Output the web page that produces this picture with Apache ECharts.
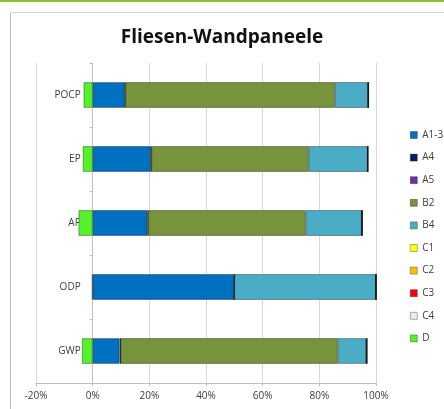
<!DOCTYPE html>
<html>
<head>
<meta charset="utf-8">
<script src="https://cdn.jsdelivr.net/npm/echarts@6/dist/echarts.min.js"></script>
<style>
  html, body { margin: 0; padding: 0; background: #fff; }
  #main { width: 444px; height: 409px; }
</style>
</head>
<body>
<div id="main"></div>
<script>
// Kategorien (unten nach oben)
var categories = ['GWP', 'ODP', 'AP', 'EP', 'POCP'];
var seriesNames = ['A1-3', 'A4', 'A5', 'B2', 'B4', 'C1', 'C2', 'C3', 'C4', 'D'];
var seriesColors = ['#0070c0', '#002060', '#7030a0', '#77933c', '#4bacc6', '#ffff00', '#ffc000', '#ff0000', '#eeece1', '#55f22a'];

// Anteile in %, Reihenfolge wie categories
var valA13 = [9.5, 50.0, 19.3, 20.5, 11.3];
var valA4  = [0.4, 0.0, 0.3, 0.2, 0.2];
var valA5  = [0, 0, 0, 0, 0];
var valB2  = [76.6, 0.0, 55.6, 55.6, 74.0];
var valB4  = [10.1, 50.0, 19.8, 20.8, 11.7];
var valC1  = [0, 0, 0, 0, 0];
var valC2  = [0, 0, 0, 0, 0];
var valC3  = [0.3, 0, 0.2, 0, 0.2];
var valC4  = [0, 0, 0, 0, 0];
var valD   = [-3.8, -0.3, -5.0, -3.5, -3.2];
var xTicks = [-20, 0, 20, 40, 60, 80, 100];

var allValues = [valA13, valA4, valA5, valB2, valB4, valC1, valC2, valC3, valC4, valD];

var chart = echarts.init(document.getElementById('main'));

var series = seriesNames.map(function (name, i) {
    return {
        name: name,
        type: 'bar',
        stack: 'gesamt',
        barWidth: '40%',
        itemStyle: {
            color: seriesColors[i],
            borderColor: 'rgba(0,0,0,0.45)',
            borderWidth: 0.8
        },
        emphasis: { disabled: true },
        data: allValues[i]
    };
});

// Abstand der 0%-Linie vom linken Rand des Diagrammbereichs
var plotWidth = 340;
var zeroOffset = plotWidth * (0 - xTicks[0]) / (xTicks[xTicks.length - 1] - xTicks[0]);

var option = {
    animation: false,
    title: {
        text: 'Fliesen-Wandpaneele',
        left: 'center',
        top: 23,
        textStyle: { fontFamily: 'Open Sans', fontWeight: 'bold', fontSize: 19, color: '#111' }
    },
    legend: {
        orient: 'vertical',
        left: 405,
        top: 124,
        itemWidth: 7,
        itemHeight: 7,
        itemGap: 10.6,
        icon: 'rect',
        data: seriesNames,
        textStyle: { fontFamily: 'Open Sans', fontSize: 10, color: '#404040', lineHeight: 12 },
        itemStyle: { borderColor: 'rgba(0,0,0,0.5)', borderWidth: 0.6 }
    },
    grid: { left: 36, right: 68, top: 63, bottom: 26, containLabel: false },
    xAxis: {
        type: 'value',
        min: xTicks[0],
        max: xTicks[xTicks.length - 1],
        interval: 20,
        axisLine: { show: true, lineStyle: { color: '#bfbfbf' } },
        axisTick: { show: true, length: 3, lineStyle: { color: '#bfbfbf' } },
        axisLabel: {
            formatter: '{value}%',
            fontFamily: 'Open Sans',
            fontSize: 10,
            color: '#404040',
            margin: 8
        },
        splitLine: { show: true, lineStyle: { color: '#d9d9d9' } }
    },
    yAxis: {
        type: 'category',
        data: categories,
        offset: -zeroOffset,
        axisLine: { show: true, lineStyle: { color: '#bfbfbf' } },
        axisTick: { show: true, length: 3, lineStyle: { color: '#bfbfbf' } },
        axisLabel: { fontFamily: 'Open Sans', fontSize: 10, color: '#404040', margin: 12 }
    },
    graphic: [
        { type: 'rect', shape: { x: 0, y: 0, width: 444, height: 2 }, style: { fill: '#8dc21f' } },
        { type: 'line', shape: { x1: 10.5, y1: 12, x2: 10.5, y2: 409 }, style: { stroke: '#bdbdbd', lineWidth: 1 } },
        { type: 'line', shape: { x1: 10, y1: 12.5, x2: 444, y2: 12.5 }, style: { stroke: '#d0d0d0', lineWidth: 1 } }
    ],
    series: series
};

chart.setOption(option);
</script>
</body>
</html>
